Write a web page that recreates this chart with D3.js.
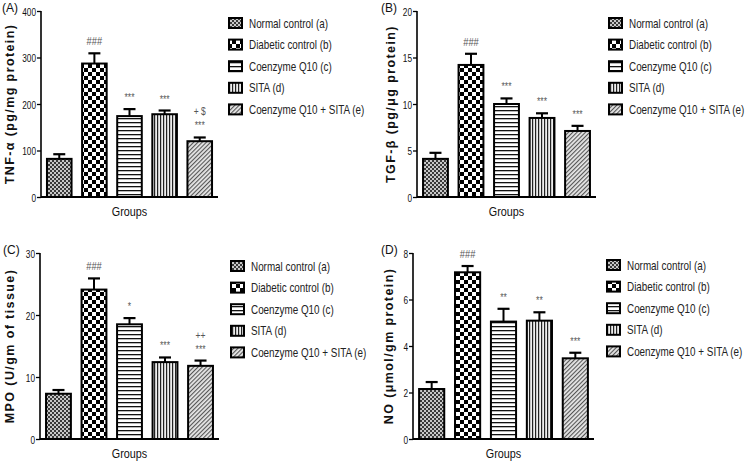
<!DOCTYPE html>
<html><head><meta charset="utf-8">
<script src="https://cdn.jsdelivr.net/npm/d3@7"></script>
<style>
body{margin:0;background:#fff;}
svg{display:block;}
</style></head>
<body>
<svg id="c" width="745" height="464"></svg>
<script>
const groups = ["Normal control (a)","Diabetic control (b)","Coenzyme Q10 (c)","SITA (d)","Coenzyme Q10 + SITA (e)"];
const tnfMean = [82, 287, 174, 178, 120];
const tnfErr  = [10, 22, 15, 8, 8];
const tgfMean = [4.1, 14.2, 10.0, 8.5, 7.1];
const tgfErr  = [0.65, 1.2, 0.6, 0.5, 0.55];
const mpoMean = [7.3, 24.1, 18.5, 12.4, 11.8];
const mpoErr  = [0.6, 1.8, 1.0, 0.75, 0.85];
const noMean  = [2.15, 7.17, 5.05, 5.09, 3.47];
const noErr   = [0.3, 0.27, 0.55, 0.36, 0.24];
const tnfNotes = [[], ["###"], ["***"], ["***"], ["+ $","***"]];
const tgfNotes = [[], ["###"], ["***"], ["***"], ["***"]];
const mpoNotes = [[], ["###"], ["*"], ["***"], ["++","***"]];
const noNotes  = [[], ["###"], ["**"], ["**"], ["***"]];
const tnfTicks = [0,100,200,300,400];
const tgfTicks = [0,5,10,15,20];
const mpoTicks = [0,10,20,30];
const noTicks  = [0,2,4,6,8];

const FONT = '"Liberation Sans",Arial,sans-serif';
const svg = d3.select("#c");
const defs = svg.append("defs");
const patIds = ["pa","pb","pc","pd","pe"];
let p = defs.append("pattern").attr("id","pa").attr("patternUnits","userSpaceOnUse").attr("width",4).attr("height",4);
p.append("rect").attr("width",4).attr("height",4).attr("fill","#c8c8c8");
p.append("rect").attr("width",2).attr("height",2).attr("fill","#3a3a3a");
p.append("rect").attr("x",2).attr("y",2).attr("width",2).attr("height",2).attr("fill","#3a3a3a");
p = defs.append("pattern").attr("id","pb").attr("patternUnits","userSpaceOnUse").attr("width",8).attr("height",8);
p.append("rect").attr("width",8).attr("height",8).attr("fill","#fff");
p.append("rect").attr("width",4).attr("height",4).attr("fill","#000");
p.append("rect").attr("x",4).attr("y",4).attr("width",4).attr("height",4).attr("fill","#000");
p = defs.append("pattern").attr("id","pc").attr("patternUnits","userSpaceOnUse").attr("width",4).attr("height",4);
p.append("rect").attr("width",4).attr("height",4).attr("fill","#fff");
p.append("rect").attr("y",2).attr("width",4).attr("height",1.3).attr("fill","#111");
p = defs.append("pattern").attr("id","pd").attr("patternUnits","userSpaceOnUse").attr("width",3).attr("height",3);
p.append("rect").attr("width",3).attr("height",3).attr("fill","#eee");
p.append("rect").attr("x",1).attr("width",1.2).attr("height",3).attr("fill","#222");
p = defs.append("pattern").attr("id","pe").attr("patternUnits","userSpaceOnUse").attr("width",3).attr("height",3).attr("patternTransform","rotate(45)");
p.append("rect").attr("width",3).attr("height",3).attr("fill","#e6e6e6");
p.append("rect").attr("width",1.1).attr("height",3).attr("fill","#555");

function narrow(parent, x, y, sx, txt, size, anchor, fill){
  return parent.append("text").attr("transform",`translate(${x},${y}) scale(${sx},1)`)
    .attr("text-anchor",anchor||"start").style("font-family",FONT).style("font-size",size+"px")
    .attr("fill",fill||"#111").text(txt);
}

function panel(cfg){
  const g = svg.append("g");
  const x = d3.scaleBand().domain(d3.range(5)).range(cfg.xr).paddingInner(0.3).paddingOuter(0.17);
  const y = d3.scaleLinear().domain([0, d3.max(cfg.ticks)]).range(cfg.yr);
  const ax = g.append("g").attr("transform",`translate(${cfg.xr[0]},0)`)
    .call(d3.axisLeft(y).tickValues(cfg.ticks).tickSize(4).tickFormat(d=>d+""));
  ax.select(".domain").attr("stroke","#000").attr("stroke-width",1.6).attr("d",`M0,${cfg.yr[1]}V${cfg.yr[0]}`);
  ax.selectAll(".tick line").attr("stroke","#000").attr("stroke-width",1.3);
  ax.selectAll(".tick text").attr("x",null).attr("dy","0.35em")
    .attr("transform","translate(-5,0) scale(0.72,1)")
    .style("font-family",FONT).style("font-size","11.5px").attr("fill","#111");
  g.selectAll("rect.bar").data(cfg.mean).enter().append("rect")
    .attr("x",(d,i)=>x(i)).attr("width",x.bandwidth())
    .attr("y",d=>y(d)).attr("height",d=>y(0)-y(d))
    .attr("fill",(d,i)=>`url(#${patIds[i]})`).attr("stroke","#000").attr("stroke-width",2);
  cfg.mean.forEach((m,i)=>{
    const cx = x(i)+x.bandwidth()/2, top = y(m+cfg.err[i]);
    g.append("line").attr("x1",cx).attr("x2",cx).attr("y1",y(m)).attr("y2",top).attr("stroke","#000").attr("stroke-width",2);
    g.append("line").attr("x1",cx-6).attr("x2",cx+6).attr("y1",top).attr("y2",top).attr("stroke","#000").attr("stroke-width",2.2);
    const notes = cfg.notes[i];
    notes.forEach((t,k)=>{
      const off = (notes.length-1-k)*14;
      narrow(g, cx, top-8-off, 0.85, t, t==="###"?11:10, "middle", "#555");
    });
  });
  g.append("line").attr("x1",cfg.xr[0]).attr("x2",cfg.xr[1]).attr("y1",y(0)).attr("y2",y(0)).attr("stroke","#000").attr("stroke-width",2);
  narrow(g, (x(0)+x(4)+x.bandwidth())/2, y(0)+19, 0.8, "Groups", 13.5, "middle", "#111");
  g.append("text").attr("transform",`translate(${cfg.ylx},${(cfg.yr[0]+cfg.yr[1])/2}) rotate(-90)`)
    .attr("text-anchor","middle").attr("dy","0.35em")
    .style("font-family",FONT).style("font-weight","bold").style("font-size","12.5px")
    .style("letter-spacing","1.4px").attr("fill","#111").text(cfg.ylabel);
  g.append("text").attr("x",cfg.lx).attr("y",cfg.yr[1]+1).style("font-family",FONT)
    .style("font-size","12px").attr("fill","#111").text(cfg.letter);
  const lg = g.append("g");
  groups.forEach((name,i)=>{
    const yy = cfg.legY + i*21.6;
    lg.append("rect").attr("x",cfg.legX).attr("y",yy-5).attr("width",13).attr("height",10)
      .attr("fill",`url(#${patIds[i]})`).attr("stroke","#000").attr("stroke-width",2);
    narrow(lg, cfg.legX+20, yy+4.5, 0.76, name, 13, "start", "#222");
  });
}

panel({xr:[41,218], yr:[197,11], ticks:tnfTicks, mean:tnfMean, err:tnfErr, notes:tnfNotes,
  ylabel:"TNF-α (pg/mg protein)", ylx:10, letter:"(A)", lx:2, legX:229, legY:23});
panel({xr:[417,596], yr:[197,11], ticks:tgfTicks, mean:tgfMean, err:tgfErr, notes:tgfNotes,
  ylabel:"TGF-β (pg/μg protein)", ylx:391, letter:"(B)", lx:381, legX:609, legY:23});
panel({xr:[40,219], yr:[439,253], ticks:mpoTicks, mean:mpoMean, err:mpoErr, notes:mpoNotes,
  ylabel:"MPO (U/gm of tissue)", ylx:10, letter:"(C)", lx:3, legX:231, legY:266});
panel({xr:[413,594], yr:[439,253], ticks:noTicks, mean:noMean, err:noErr, notes:noNotes,
  ylabel:"NO (μmol/gm protein)", ylx:389, letter:"(D)", lx:381, legX:607, legY:265});
</script>
</body></html>
